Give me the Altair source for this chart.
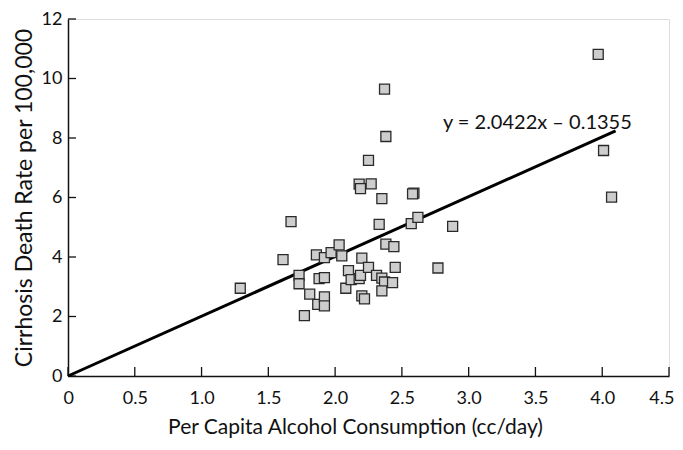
import altair as alt
import pandas as pd

# Per capita alcohol consumption (cc/day)
consumption = [1.29, 1.61, 1.67, 1.73, 1.73, 1.77, 1.81, 1.86, 1.87, 1.88,
               1.92, 1.92, 1.92, 1.92, 1.97, 2.03, 2.05, 2.08, 2.10, 2.12,
               2.18, 2.19, 2.20, 2.20, 2.22, 2.25, 2.31, 2.35, 2.37, 2.35,
               2.38, 2.43, 2.44, 2.45, 2.33, 2.35, 2.18, 2.19, 2.27, 2.25,
               2.38, 2.37, 2.59, 2.58, 2.57, 2.62, 2.77, 2.88, 3.97, 4.01,
               4.07]
# Cirrhosis death rate per 100,000
death_rate = [2.95, 3.91, 5.19, 3.38, 3.10, 2.03, 2.75, 4.07, 2.41, 3.27,
              3.98, 3.31, 2.66, 2.36, 4.15, 4.41, 4.04, 2.95, 3.54, 3.24,
              3.27, 3.38, 3.96, 2.69, 2.59, 3.65, 3.38, 3.29, 3.16, 2.86,
              4.43, 3.14, 4.35, 3.65, 5.10, 5.96, 6.45, 6.30, 6.46, 7.25,
              8.05, 9.64, 6.15, 6.12, 5.12, 5.33, 3.63, 5.03, 10.81, 7.58,
              6.01]

slope = 2.0422
intercept = -0.1355
fit_x = [0.0, 4.1]
equation = "y = 2.0422x \u2013 0.1355"
eq_pos = [2.807, 8.52]

x_ticks = [0, 0.5, 1.0, 1.5, 2.0, 2.5, 3.0, 3.5, 4.0, 4.5]
y_ticks = [0, 2, 4, 6, 8, 10, 12]

W, H = 601, 357
FONT = "Lato"

pts = pd.DataFrame({"x": consumption, "y": death_rate})
fit = pd.DataFrame({"x": fit_x, "y": [max(0.0, slope * v + intercept) for v in fit_x]})
lab = pd.DataFrame({"x": [eq_pos[0]], "y": [eq_pos[1]], "t": [equation]})
xt = pd.DataFrame({"v": x_ticks})
yt = pd.DataFrame({"v": y_ticks})

xs = alt.Scale(domain=[0, 4.5], nice=False, zero=False)
ys = alt.Scale(domain=[0, 12], nice=False, zero=False)

xaxis = alt.Axis(values=x_ticks, ticks=False, grid=False,
                 labelExpr="datum.value == 0 ? '0' : format(datum.value, '.1f')",
                 labelFontSize=18, labelFont=FONT, labelColor="#111",
                 labelPadding=13, title="Per Capita Alcohol Consumption (cc/day)",
                 titleFontSize=21, titleFont=FONT, titleFontWeight="normal",
                 titleColor="#111", titlePadding=9, titleX=287,
                 domainColor="#111", domainWidth=1.5,
                 labelFlush=True, labelFlushOffset=5)
yaxis = alt.Axis(values=y_ticks, ticks=False, grid=False, format="d",
                 labelFontSize=18, labelFont=FONT, labelColor="#111",
                 labelPadding=6, title="Cirrhosis Death Rate per 100,000",
                 titleFontSize=23, titleFont=FONT, titleFontWeight="normal",
                 titleColor="#111", titlePadding=5, domainColor="#111",
                 domainWidth=1.5, labelFlush=False)

base_pts = alt.Chart(pts).mark_square(
    size=100, fill="#cdcdcd", stroke="#2a2a2a", strokeWidth=1.3, opacity=1
).encode(x=alt.X("x:Q", scale=xs, axis=xaxis), y=alt.Y("y:Q", scale=ys, axis=yaxis))

line = alt.Chart(fit).mark_line(color="black", strokeWidth=3).encode(
    x=alt.X("x:Q", scale=xs), y=alt.Y("y:Q", scale=ys))

text = alt.Chart(lab).mark_text(align="left", baseline="middle", fontSize=20,
                                font=FONT, color="#111").encode(
    x=alt.X("x:Q", scale=xs), y=alt.Y("y:Q", scale=ys), text="t:N")

xtick = alt.Chart(xt).mark_rule(color="#111", strokeWidth=1.3).encode(
    x=alt.X("v:Q", scale=xs), y=alt.value(H), y2=alt.value(H - 9))
ytick = alt.Chart(yt).mark_rule(color="#111", strokeWidth=1.3).encode(
    y=alt.Y("v:Q", scale=ys), x=alt.value(0), x2=alt.value(8))

chart = alt.layer(xtick, ytick, line, base_pts, text).properties(
    width=W, height=H,
    autosize=alt.AutoSizeParams(type="none"),
    padding={"left": 60, "top": 11, "right": 6, "bottom": 65},
).configure_view(stroke=None).configure(background="white")

chart.save("out.html", embed_options={"renderer": "svg", "actions": False})
